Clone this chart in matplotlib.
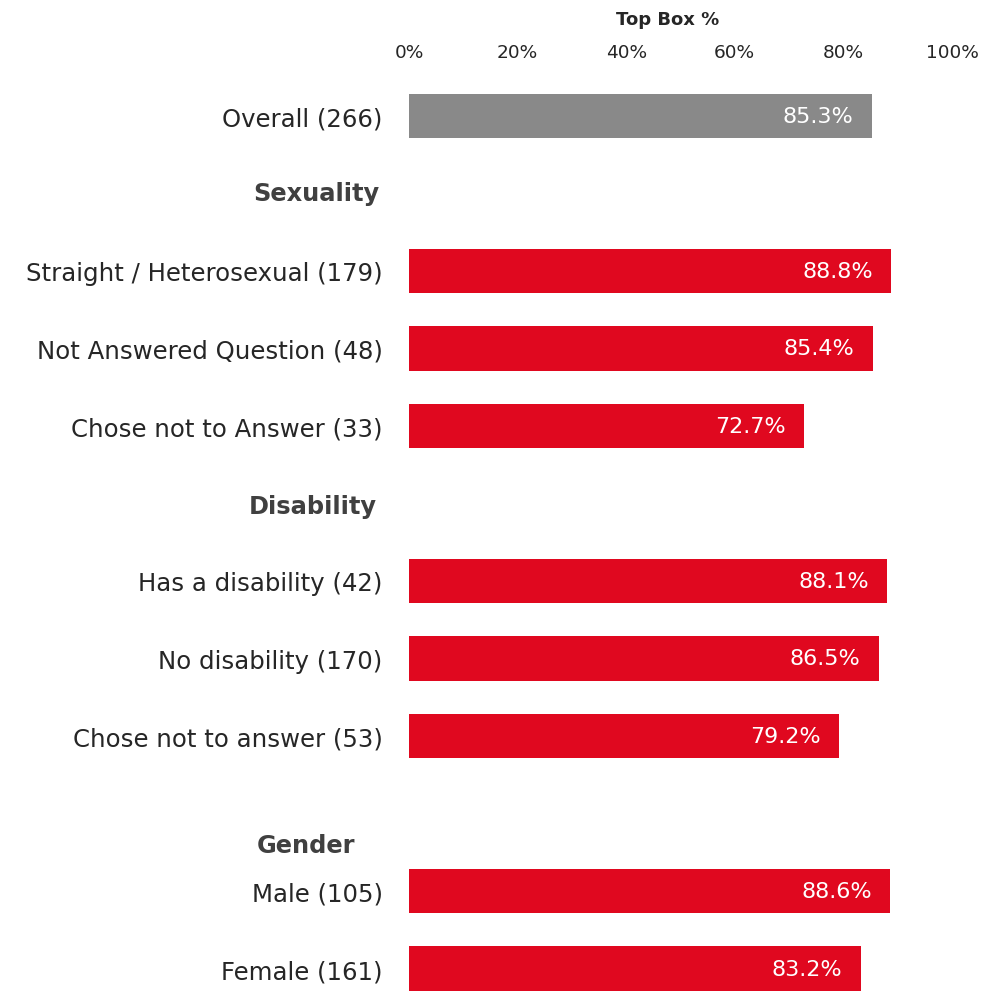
import numpy as np
import matplotlib.pyplot as plt

plt.rcParams['font.family'] = ['DejaVu Sans']

# data
labels = ["Overall (266)",
          "Straight / Heterosexual (179)", "Not Answered Question (48)", "Chose not to Answer (33)",
          "Has a disability (42)", "No disability (170)", "Chose not to answer (53)",
          "Male (105)", "Female (161)"]
values = [85.3, 88.8, 85.4, 72.7, 88.1, 86.5, 79.2, 88.6, 83.2]
headers = ["Sexuality", "Disability", "Gender"]
xticks = [0, 20, 40, 60, 80, 100]

# layout: row slots for bars and headers
bar_rows = [0, 2, 3, 4, 6, 7, 8, 10, 11]
header_rows = [0.99, 5.03, 9.41]
header_x = [-0.055, -0.059, -0.099]

GREY = '#898989'
RED = '#E0081F'
TXT = '#262626'
HDR = '#404040'

fig = plt.figure(figsize=(10, 9.95), dpi=100)
ax = fig.add_axes([0.409, 0.00226, 0.543, 0.9191])

colors = [GREY] + [RED] * (len(values) - 1)
ax.barh(bar_rows, values, height=0.57, color=colors)

for y, v in zip(bar_rows, values):
    ax.text(v - 3.4, y, "{:.1f}%".format(v), ha='right', va='center',
            color='white', fontsize=16)

ax.set_xlim(0, 100)
ax.set_ylim(11.3, -0.5)
ax.set_yticks(bar_rows)
ax.set_yticklabels(labels, fontsize=17.6, color=TXT)
ax.xaxis.tick_top()
ax.set_xticks(xticks)
ax.set_xticklabels(["{}%".format(t) for t in xticks], fontsize=13.3, color=TXT)
ax.tick_params(axis='both', length=0)
ax.tick_params(axis='y', pad=19)
ax.tick_params(axis='x', pad=12)
for s in ax.spines.values():
    s.set_visible(False)

trans = ax.get_yaxis_transform()
for name, y, x in zip(headers, header_rows, header_x):
    ax.text(x, y, name, transform=trans, ha='right', va='center',
            fontsize=17.4, fontweight='bold', color=HDR)

fig.text(0.668, 0.98, "Top Box %", ha='center', va='center',
         fontsize=13, fontweight='bold', color=TXT)

fig.savefig('out.png', dpi=100)
